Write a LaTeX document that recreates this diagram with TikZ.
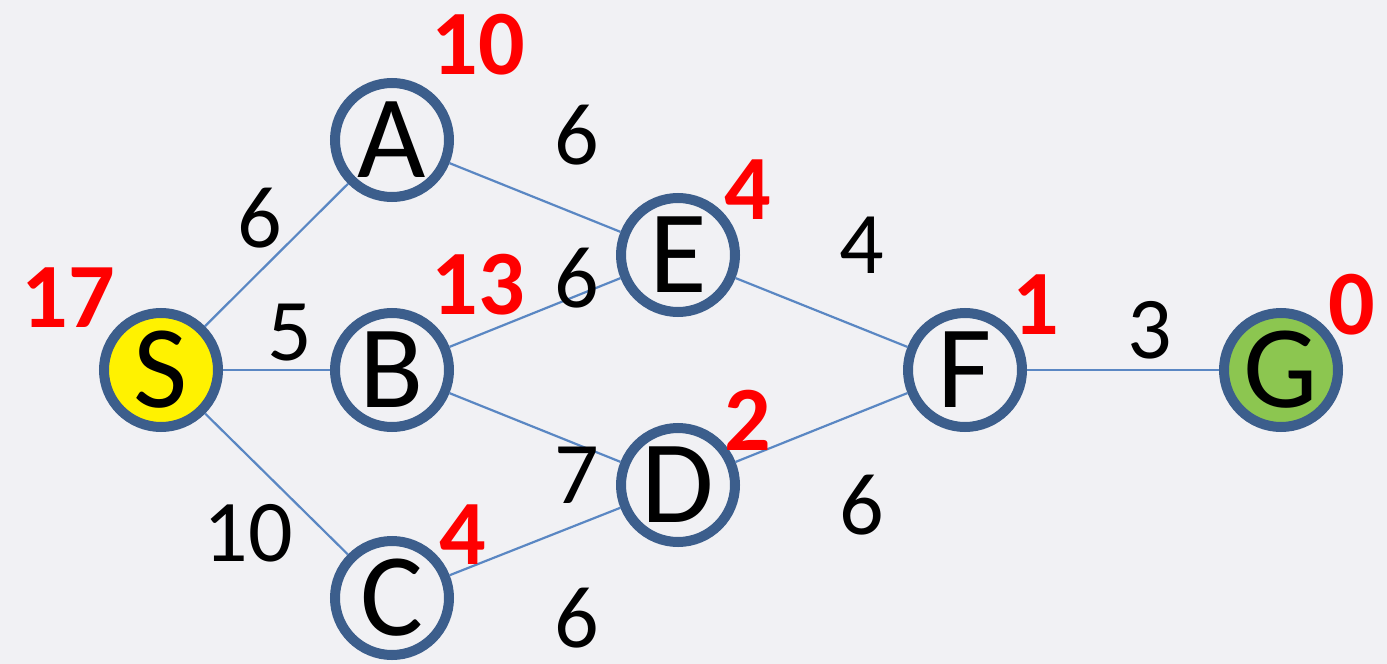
\documentclass[tikz,border=0pt]{standalone}
\usepackage{fontspec}
\setmainfont{Carlito}
\definecolor{bg}{RGB}{241,241,244}
\definecolor{ring}{RGB}{60,94,140}
\definecolor{edgec}{RGB}{90,135,195}
\definecolor{gfill}{RGB}{140,198,80}
\definecolor{hred}{RGB}{255,0,0}
\begin{document}
\begin{tikzpicture}[x=0.5pt,y=-0.5pt,
  vtx/.style={circle,draw=ring,line width=5pt,minimum size=57pt,inner sep=0pt,fill=bg,font=\fontsize{59}{59}\selectfont},
  wt/.style={font=\fontsize{44}{44}\selectfont,text=black,inner sep=0pt},
  hv/.style={font=\fontsize{46}{46}\selectfont\bfseries,text=hred,inner sep=0pt},
  lnk/.style={draw=edgec,line width=1.1pt}]
\fill[bg] (0,0) rectangle (1387,664);
\useasboundingbox (0,0) rectangle (1387,664);
\node[vtx,fill=yellow] (S) at (161,370) {S};
\node[vtx] (A) at (392,140) {A};
\node[vtx] (B) at (392,370) {B};
\node[vtx] (C) at (392,598) {C};
\node[vtx] (E) at (678,255) {E};
\node[vtx] (D) at (678,485) {D};
\node[vtx] (F) at (965,370) {F};
\node[vtx,fill=gfill] (G) at (1281,370) {G};
\draw[lnk] (S) -- (A);
\draw[lnk] (S) -- (B);
\draw[lnk] (S) -- (C);
\draw[lnk] (A) -- (E);
\draw[lnk] (B) -- (E);
\draw[lnk] (B) -- (D);
\draw[lnk] (C) -- (D);
\draw[lnk] (E) -- (F);
\draw[lnk] (D) -- (F);
\draw[lnk] (F) -- (G);
\node[wt] (w1) at (260,218) {6};
\node[wt] (w2) at (290,333) {5};
\node[wt] (w3) at (248,533) {10};
\node[wt] (w4) at (577,135) {6};
\node[wt] (w5) at (577,278) {6};
\node[wt] (w6) at (577,475) {7};
\node[wt] (w7) at (577,618) {6};
\node[wt] (w8) at (862,245) {4};
\node[wt] (w9) at (862,505) {6};
\node[wt] (w10) at (1150,330) {3};
\node[hv] (hS) at (68,298) {17};
\node[hv] (hA) at (478,45) {10};
\node[hv] (hB) at (478,285) {13};
\node[hv] (hC) at (463,535) {4};
\node[hv] (hE) at (748,190) {4};
\node[hv] (hD) at (748,420) {2};
\node[hv] (hF) at (1036,305) {1};
\node[hv] (hG) at (1352,305) {0};
\end{tikzpicture}
\end{document}
